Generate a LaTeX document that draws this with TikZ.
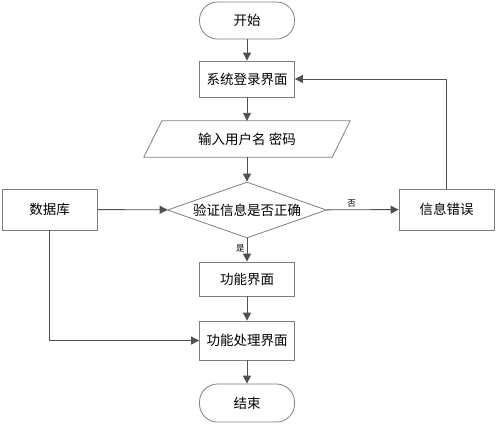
\documentclass[tikz,border=0pt]{standalone}
\usepackage{fontspec}
\setmainfont{Noto Sans CJK SC}
\usetikzlibrary{shapes.geometric,arrows.meta,calc}
\definecolor{boxc}{HTML}{7F7F7F}
\definecolor{linec}{HTML}{505050}
\begin{document}
\begin{tikzpicture}[x=1bp,y=-1bp,
  txt/.style={font=\fontsize{13.5bp}{15bp}\selectfont, inner sep=0pt},
  box/.style={txt, draw=boxc, line width=0.8bp, minimum width=95bp, minimum height=36bp, fill=white},
  term/.style={box, rounded corners=18bp},
  conn/.style={draw=linec, line width=0.9bp, -{Triangle[length=8bp,width=8bp]}},
  plain/.style={draw=linec, line width=0.9bp},
  lab/.style={font=\fontsize{8.5bp}{9bp}\selectfont, inner sep=2bp}]
\useasboundingbox (0,0) rectangle (496,424);
\node[term, minimum height=37bp] (start) at (247,20.5) {开始};
\node[box] (login) at (247,79) {系统登录界面};
\node[txt, minimum width=188bp, minimum height=36bp] (input) at (247,139) {输入用户名 密码};
\draw[boxc, line width=0.8bp] ($(input.north west)+(9,0)$) -- ($(input.north east)+(9,0)$)
  -- ($(input.south east)+(-9,0)$) -- ($(input.south west)+(-9,0)$) -- cycle;
\node[txt, diamond, draw=boxc, line width=0.8bp, aspect=2.84, minimum width=159bp, minimum height=56bp] (check) at (247,210) {验证信息是否正确};
\node[box, minimum height=41bp] (db) at (49.5,209.5) {数据库};
\node[box, minimum height=41bp] (err) at (446.5,209.5) {信息错误};
\node[box, minimum height=34bp] (func) at (247,279) {功能界面};
\node[box, minimum height=39bp] (proc) at (247,340.5) {功能处理界面};
\node[term, minimum height=38bp] (end) at (247,403) {结束};
\draw[conn] (start) -- (login);
\draw[conn] (login) -- (input);
\draw[conn] (input) -- (check);
\draw[conn] (check) -- node[lab, pos=0.42, left] {是} (func);
\draw[conn] (check) -- node[lab, pos=0.35, above] {否} (err);
\draw[conn] (func) -- (proc);
\draw[conn] (proc) -- (end);
\draw[conn] (db) -- (check);
\draw[conn] (err.north) |- (login.east);
\draw[conn] (db.south) |- (proc.west);
\end{tikzpicture}
\end{document}
